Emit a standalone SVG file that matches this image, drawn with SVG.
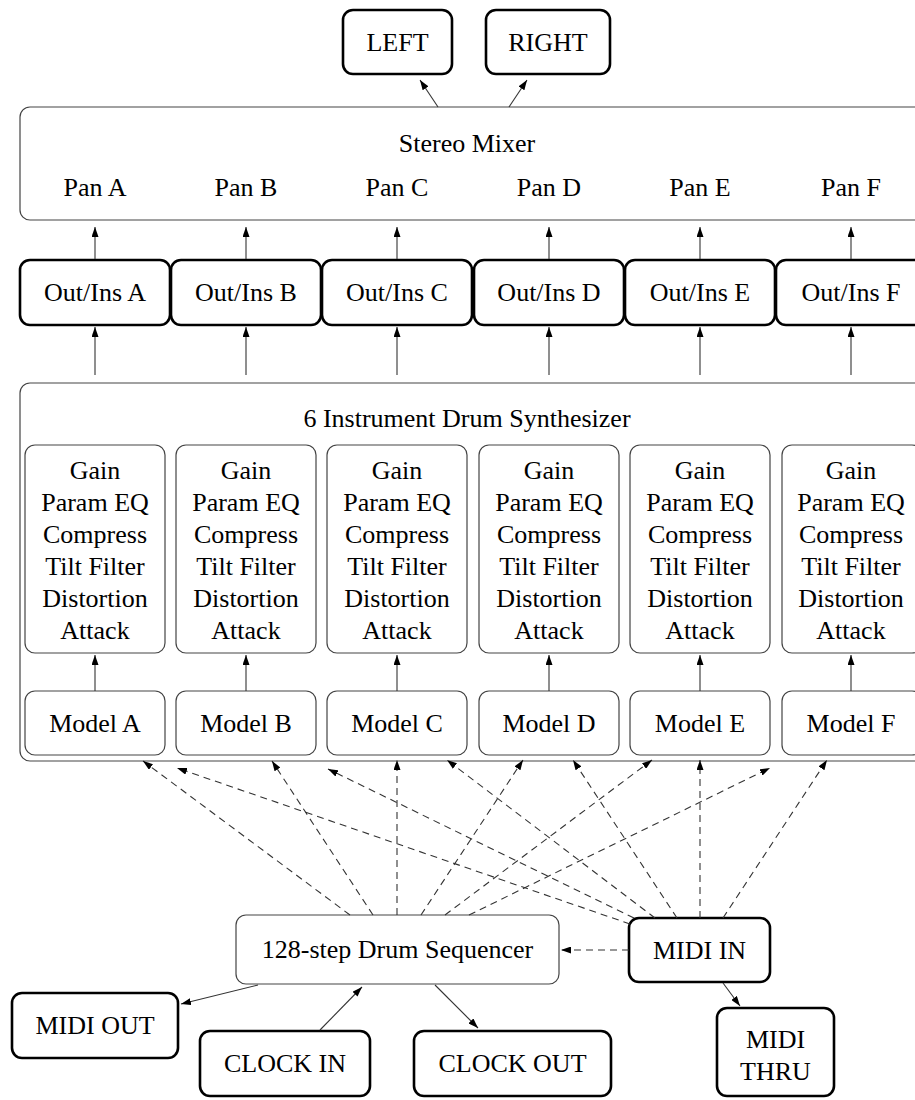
<svg xmlns="http://www.w3.org/2000/svg" width="915" height="1100" viewBox="0 0 915 1100" font-family="'Liberation Serif', Tinos, 'Times New Roman', 'DejaVu Serif', serif">
<style>
text{font-family:'Liberation Serif',Tinos,'Times New Roman','DejaVu Serif',serif;font-size:26px;fill:#000;text-anchor:middle}
.thick{fill:#fff;stroke:#000;stroke-width:2.6}
.thin{fill:#fff;stroke:#444;stroke-width:1.2}
.e{fill:none;stroke:#333;stroke-width:1.1}
.d{fill:none;stroke:#333;stroke-width:1.1;stroke-dasharray:7,5}
</style>
<defs>
<marker id="ah" viewBox="0 0 10 7" refX="10" refY="3.5" markerWidth="10" markerHeight="7" markerUnits="userSpaceOnUse" orient="auto">
<path d="M0,0 L10,3.5 L0,7 z" fill="#000"/>
</marker>
</defs>
<rect width="915" height="1100" fill="#fff"/>
<g id="left"><rect class="thick" x="343" y="10" width="109" height="64" rx="10"/><text x="397.5" y="51">LEFT</text></g>
<g id="right"><rect class="thick" x="486" y="10" width="124" height="64" rx="10"/><text x="548" y="51">RIGHT</text></g>
<g id="mixer"><rect class="thin" x="20" y="107" width="910" height="113" rx="10"/>
<text x="467" y="152">Stereo Mixer</text>
<text x="95" y="196">Pan A</text><text x="246" y="196">Pan B</text><text x="397" y="196">Pan C</text><text x="549" y="196">Pan D</text><text x="700" y="196">Pan E</text><text x="851" y="196">Pan F</text></g>
<g id="outA"><rect class="thick" x="20" y="260" width="150" height="65" rx="10"/><text x="95" y="301">Out/Ins A</text></g>
<g id="outB"><rect class="thick" x="171" y="260" width="150" height="65" rx="10"/><text x="246" y="301">Out/Ins B</text></g>
<g id="outC"><rect class="thick" x="322" y="260" width="150" height="65" rx="10"/><text x="397" y="301">Out/Ins C</text></g>
<g id="outD"><rect class="thick" x="474" y="260" width="150" height="65" rx="10"/><text x="549" y="301">Out/Ins D</text></g>
<g id="outE"><rect class="thick" x="625" y="260" width="150" height="65" rx="10"/><text x="700" y="301">Out/Ins E</text></g>
<g id="outF"><rect class="thick" x="776" y="260" width="150" height="65" rx="10"/><text x="851" y="301">Out/Ins F</text></g>
<g id="synth"><rect class="thin" x="20" y="383" width="910" height="378" rx="10"/><text x="467" y="427">6 Instrument Drum Synthesizer</text></g>
<g id="fxA"><rect class="thin" x="25" y="445" width="140" height="208" rx="10"/><text x="95" y="479">Gain</text><text x="95" y="511">Param EQ</text><text x="95" y="543">Compress</text><text x="95" y="575">Tilt Filter</text><text x="95" y="607">Distortion</text><text x="95" y="639">Attack</text></g>
<g id="fxB"><rect class="thin" x="176" y="445" width="140" height="208" rx="10"/><text x="246" y="479">Gain</text><text x="246" y="511">Param EQ</text><text x="246" y="543">Compress</text><text x="246" y="575">Tilt Filter</text><text x="246" y="607">Distortion</text><text x="246" y="639">Attack</text></g>
<g id="fxC"><rect class="thin" x="327" y="445" width="140" height="208" rx="10"/><text x="397" y="479">Gain</text><text x="397" y="511">Param EQ</text><text x="397" y="543">Compress</text><text x="397" y="575">Tilt Filter</text><text x="397" y="607">Distortion</text><text x="397" y="639">Attack</text></g>
<g id="fxD"><rect class="thin" x="479" y="445" width="140" height="208" rx="10"/><text x="549" y="479">Gain</text><text x="549" y="511">Param EQ</text><text x="549" y="543">Compress</text><text x="549" y="575">Tilt Filter</text><text x="549" y="607">Distortion</text><text x="549" y="639">Attack</text></g>
<g id="fxE"><rect class="thin" x="630" y="445" width="140" height="208" rx="10"/><text x="700" y="479">Gain</text><text x="700" y="511">Param EQ</text><text x="700" y="543">Compress</text><text x="700" y="575">Tilt Filter</text><text x="700" y="607">Distortion</text><text x="700" y="639">Attack</text></g>
<g id="fxF"><rect class="thin" x="782" y="445" width="140" height="208" rx="10"/><text x="851" y="479">Gain</text><text x="851" y="511">Param EQ</text><text x="851" y="543">Compress</text><text x="851" y="575">Tilt Filter</text><text x="851" y="607">Distortion</text><text x="851" y="639">Attack</text></g>
<g id="modelA"><rect class="thin" x="25" y="691" width="140" height="64" rx="10"/><text x="95" y="732">Model A</text></g>
<g id="modelB"><rect class="thin" x="176" y="691" width="140" height="64" rx="10"/><text x="246" y="732">Model B</text></g>
<g id="modelC"><rect class="thin" x="327" y="691" width="140" height="64" rx="10"/><text x="397" y="732">Model C</text></g>
<g id="modelD"><rect class="thin" x="479" y="691" width="140" height="64" rx="10"/><text x="549" y="732">Model D</text></g>
<g id="modelE"><rect class="thin" x="630" y="691" width="140" height="64" rx="10"/><text x="700" y="732">Model E</text></g>
<g id="modelF"><rect class="thin" x="782" y="691" width="140" height="64" rx="10"/><text x="851" y="732">Model F</text></g>
<g id="seq"><rect class="thin" x="236" y="915" width="323" height="69" rx="10"/><text x="397.5" y="958">128-step Drum Sequencer</text></g>
<g id="midiin"><rect class="thick" x="629" y="918" width="141" height="64" rx="10"/><text x="699.5" y="959">MIDI IN</text></g>
<g id="midithru"><rect class="thick" x="717" y="1008" width="117" height="88" rx="10"/><text x="775.5" y="1048">MIDI</text><text x="775.5" y="1080">THRU</text></g>
<g id="midiout"><rect class="thick" x="12" y="993" width="166" height="65" rx="10"/><text x="95" y="1034">MIDI OUT</text></g>
<g id="clockin"><rect class="thick" x="200" y="1031" width="170" height="65" rx="10"/><text x="285" y="1072">CLOCK IN</text></g>
<g id="clockout"><rect class="thick" x="414" y="1031" width="197" height="65" rx="10"/><text x="512.5" y="1072">CLOCK OUT</text></g>
<g id="connectors">
<path class="e" d="M438,107 L420,80" marker-end="url(#ah)"/>
<path class="e" d="M509,107 L527,80" marker-end="url(#ah)"/>
<path class="e" d="M95,259 V227" marker-end="url(#ah)"/>
<path class="e" d="M246,259 V227" marker-end="url(#ah)"/>
<path class="e" d="M397,259 V227" marker-end="url(#ah)"/>
<path class="e" d="M549,259 V227" marker-end="url(#ah)"/>
<path class="e" d="M700,259 V227" marker-end="url(#ah)"/>
<path class="e" d="M851,259 V227" marker-end="url(#ah)"/>
<path class="e" d="M95,375 V327" marker-end="url(#ah)"/>
<path class="e" d="M246,375 V327" marker-end="url(#ah)"/>
<path class="e" d="M397,375 V327" marker-end="url(#ah)"/>
<path class="e" d="M549,375 V327" marker-end="url(#ah)"/>
<path class="e" d="M700,375 V327" marker-end="url(#ah)"/>
<path class="e" d="M851,375 V327" marker-end="url(#ah)"/>
<path class="e" d="M95,691 V655" marker-end="url(#ah)"/>
<path class="e" d="M246,691 V655" marker-end="url(#ah)"/>
<path class="e" d="M397,691 V655" marker-end="url(#ah)"/>
<path class="e" d="M549,691 V655" marker-end="url(#ah)"/>
<path class="e" d="M700,691 V655" marker-end="url(#ah)"/>
<path class="e" d="M851,691 V655" marker-end="url(#ah)"/>
<path class="d" d="M350,915 L143,761" marker-end="url(#ah)"/>
<path class="d" d="M373,915 L272,761" marker-end="url(#ah)"/>
<path class="d" d="M397,915 L397,760" marker-end="url(#ah)"/>
<path class="d" d="M421,915 L523,760" marker-end="url(#ah)"/>
<path class="d" d="M445,915 L652,760" marker-end="url(#ah)"/>
<path class="d" d="M469,915 L770,768" marker-end="url(#ah)"/>
<path class="d" d="M630,924 L177,768" marker-end="url(#ah)"/>
<path class="d" d="M634,918 L328,769" marker-end="url(#ah)"/>
<path class="d" d="M655,918 L447,760" marker-end="url(#ah)"/>
<path class="d" d="M677,918 L573,760" marker-end="url(#ah)"/>
<path class="d" d="M700,918 L700,760" marker-end="url(#ah)"/>
<path class="d" d="M723,918 L827,760" marker-end="url(#ah)"/>
<path class="d" d="M629,950 L561,950" marker-end="url(#ah)"/>
<path class="e" d="M723,983 L740,1006" marker-end="url(#ah)"/>
<path class="e" d="M258,985 L181,1004" marker-end="url(#ah)"/>
<path class="e" d="M320,1030 L362,987" marker-end="url(#ah)"/>
<path class="e" d="M435,985 L478,1028" marker-end="url(#ah)"/>
</g>
</svg>
